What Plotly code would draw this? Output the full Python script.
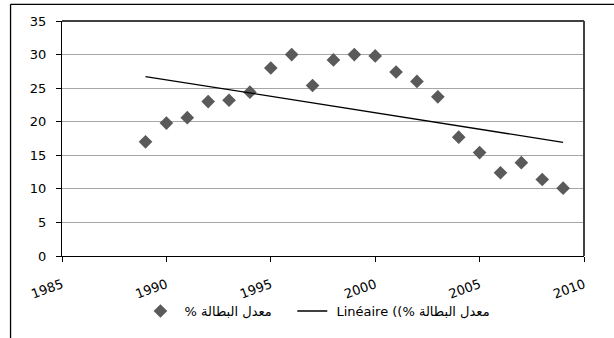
import numpy as np
import plotly.graph_objects as go

years = [1989, 1990, 1991, 1992, 1993, 1994, 1995, 1996, 1997, 1998, 1999,
         2000, 2001, 2002, 2003, 2004, 2005, 2006, 2007, 2008, 2009]
unemployment = [17.0, 19.8, 20.6, 23.0, 23.2, 24.4, 28.0, 30.0, 25.4, 29.2, 30.0,
                29.8, 27.4, 26.0, 23.7, 17.7, 15.4, 12.4, 13.9, 11.4, 10.1]
series_name = " \u202Bمعدل البطالة %\u202C"
trend_name = " Linéaire (\u202Bمعدل البطالة %)\u202C"
x_ticks = [1985, 1990, 1995, 2000, 2005, 2010]
y_ticks = [0, 5, 10, 15, 20, 25, 30, 35]

slope, intercept = np.polyfit(years, unemployment, 1)
trend_x = [years[0], years[-1]]
trend_y = [slope * x + intercept for x in trend_x]

FONT = "DejaVu Sans, sans-serif"

fig = go.Figure()
fig.add_trace(go.Scatter(
    x=years, y=unemployment, mode="markers", name=series_name, legend="legend",
    marker=dict(symbol="diamond", size=10.5, color="#5a5a5a", line=dict(width=0)),
))
fig.add_trace(go.Scatter(
    x=trend_x, y=trend_y, mode="lines", name=trend_name, legend="legend2",
    line=dict(color="#000000", width=1.3),
))

L, R, T, B = 61.5, 584, 21, 260
W, H = 614, 338
pw, ph = R - L, B - T

def px(x):
    return (x - L) / pw

def py(y):
    return (B - y) / ph

legend_common = dict(
    orientation="h", xanchor="left", y=py(316), yanchor="middle",
    font=dict(family=FONT, size=13), itemwidth=30,
    bgcolor="rgba(0,0,0,0)", borderwidth=0,
)

fig.update_layout(
    width=W, height=H,
    margin=dict(l=L, r=W - R, t=T, b=H - B, pad=0),
    paper_bgcolor="white", plot_bgcolor="white",
    font=dict(family=FONT, size=13, color="#000000"),
    showlegend=True,
    legend=dict(x=px(140), **legend_common),
    legend2=dict(x=px(292), **legend_common),
    xaxis=dict(
        range=[1985, 2010], tickvals=x_ticks, tickangle=-20,
        showgrid=False, zeroline=False, automargin=False,
        showline=True, linecolor="#000000", linewidth=1.3,
        ticks="outside", ticklen=5, tickcolor="#000000", tickwidth=1.3,
        tickfont=dict(size=13), fixedrange=True, ticklabelstandoff=10,
    ),
    yaxis=dict(
        range=[0, 35], tickvals=y_ticks, automargin=False,
        showgrid=True, gridcolor="#a6a6a6", gridwidth=1, zeroline=False,
        showline=True, linecolor="#000000", linewidth=1.3,
        ticks="outside", ticklen=5, tickcolor="#000000", tickwidth=1.3,
        tickfont=dict(size=13), fixedrange=True, ticklabelstandoff=7,
    ),
    shapes=[
        dict(type="line", xref="paper", yref="paper", x0=0, x1=1, y0=1, y1=1,
             line=dict(color="#404040", width=2)),
        dict(type="line", xref="paper", yref="paper", x0=1, x1=1, y0=0, y1=1,
             line=dict(color="#404040", width=2)),
        dict(type="line", xref="paper", yref="paper", x0=px(10), x1=px(620),
             y0=py(4), y1=py(4), line=dict(color="#000000", width=1.3)),
        dict(type="line", xref="paper", yref="paper", x0=px(10), x1=px(10),
             y0=py(4), y1=py(345), line=dict(color="#000000", width=1.3)),
    ],
)

fig.write_html("out.html", config={"displayModeBar": False},
               post_script="document.body.style.margin='0';")
